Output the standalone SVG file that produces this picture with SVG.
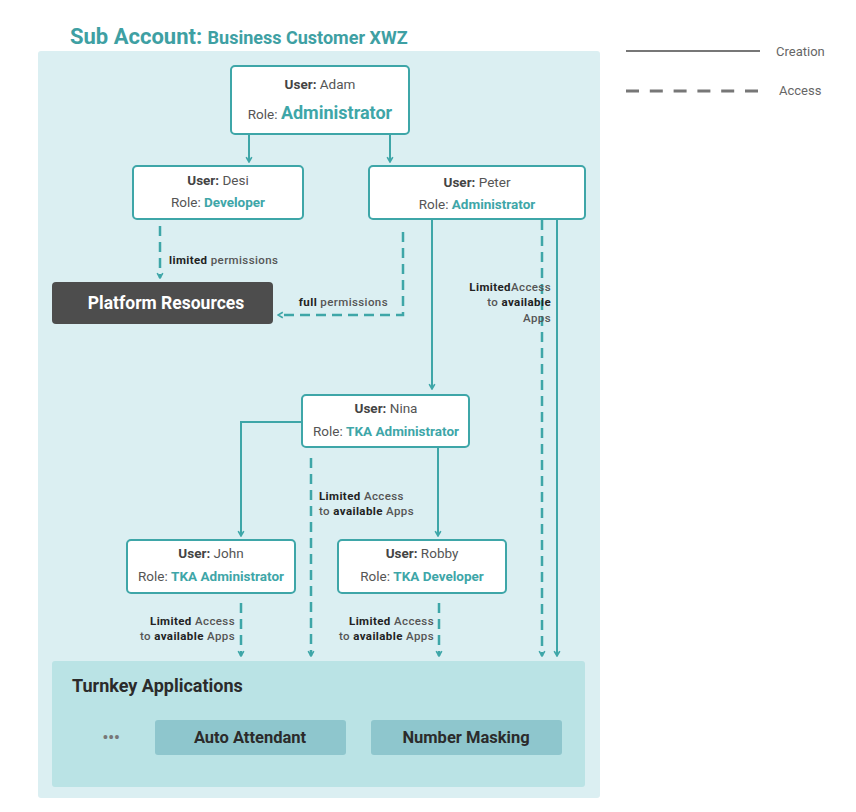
<svg xmlns="http://www.w3.org/2000/svg" width="856" height="812" viewBox="0 0 856 812">
<style>
text{font-family:Roboto,"Liberation Sans",sans-serif}
.node{fill:#fff;stroke:#3ea6a8;stroke-width:2}
.u{font-size:13.5px;fill:#555;text-anchor:middle}
.b{font-weight:bold;fill:#444}
.t{font-weight:bold;fill:#3ea6a8}
.c{fill:none;stroke:#3ea6a8;stroke-width:2}
.d{fill:none;stroke:#3ea6a8;stroke-width:2.5;stroke-dasharray:10 6}
.l{font-size:11.5px;font-weight:500;fill:#555;letter-spacing:0.4px}
.k{font-weight:bold;fill:#222}
.app{fill:#8ec6cd}
.at{font-size:16.5px;font-weight:bold;fill:#2b2b2b;text-anchor:middle}
</style>
<defs>
<marker id="ah" viewBox="0 0 10 10" refX="9" refY="5" markerWidth="8" markerHeight="8" markerUnits="userSpaceOnUse" orient="auto">
<path d="M3,1.5 L9,5 L3,8.5" fill="none" stroke="#3ea6a8" stroke-width="2"/>
</marker>
</defs>
<rect width="856" height="812" fill="#fff"/>
<text x="70" y="44" font-size="22" font-weight="bold" fill="#3ea0a3">Sub Account: <tspan font-size="18">Business Customer XWZ</tspan></text>
<rect x="38" y="51" width="562" height="747" rx="3" fill="#dbeff2"/>

<g id="legend">
<line x1="626" y1="51" x2="760" y2="51" stroke="#777" stroke-width="2"/>
<text x="776" y="56" font-size="13" fill="#666">Creation</text>
<line x1="626" y1="91" x2="758" y2="91" stroke="#777" stroke-width="3" stroke-dasharray="13 10.8"/>
<text x="779" y="95" font-size="13" fill="#666">Access</text>
</g>

<g id="turnkey">
<rect x="52" y="661" width="533" height="126" rx="3" fill="#bae3e5"/>
<text x="72" y="692" font-size="18" font-weight="bold" fill="#2b2b2b">Turnkey Applications</text>
<text x="111" y="743" font-size="16" font-weight="bold" fill="#777" text-anchor="middle">•••</text>
</g>
<g id="auto-attendant">
<rect class="app" x="155" y="720" width="191" height="35" rx="3"/>
<text class="at" x="250" y="743">Auto Attendant</text>
</g>
<g id="number-masking">
<rect class="app" x="371" y="720" width="191" height="35" rx="3"/>
<text class="at" x="466" y="743">Number Masking</text>
</g>

<g id="connectors">
<line class="c" x1="249" y1="135" x2="249" y2="162" marker-end="url(#ah)"/>
<line class="c" x1="390" y1="135" x2="390" y2="162" marker-end="url(#ah)"/>
<line class="d" x1="160" y1="226" x2="160" y2="278" marker-end="url(#ah)"/>
<polyline class="d" points="403,232 403,315 278,315" marker-end="url(#ah)"/>
<line class="c" x1="432" y1="220" x2="432" y2="389" marker-end="url(#ah)"/>
<line class="d" x1="542" y1="220" x2="542" y2="656" marker-end="url(#ah)"/>
<line class="c" x1="557" y1="220" x2="557" y2="656" marker-end="url(#ah)"/>
<polyline class="c" points="302,422 241,422 241,536" marker-end="url(#ah)"/>
<line class="c" x1="438" y1="448" x2="438" y2="536" marker-end="url(#ah)"/>
<line class="d" x1="311" y1="458" x2="311" y2="656" marker-end="url(#ah)"/>
<line class="d" x1="241" y1="603" x2="241" y2="656" marker-end="url(#ah)"/>
<line class="d" x1="439" y1="603" x2="439" y2="656" marker-end="url(#ah)"/>
<text class="l" x="169" y="264"><tspan class="k">limited</tspan> permissions</text>
<text class="l" x="388" y="306" text-anchor="end"><tspan class="k">full</tspan> permissions</text>
<text class="l" text-anchor="end"><tspan x="551" y="291"><tspan class="k">Limited</tspan>Access</tspan><tspan x="551" y="306">to <tspan class="k">available</tspan></tspan><tspan x="551" y="322">Apps</tspan></text>
<text class="l"><tspan x="319" y="500"><tspan class="k">Limited</tspan> Access</tspan><tspan x="319" y="515">to <tspan class="k">available</tspan> Apps</tspan></text>
<text class="l" text-anchor="end"><tspan x="235" y="625"><tspan class="k">Limited</tspan> Access</tspan><tspan x="235" y="640">to <tspan class="k">available</tspan> Apps</tspan></text>
<text class="l" text-anchor="end"><tspan x="434" y="625"><tspan class="k">Limited</tspan> Access</tspan><tspan x="434" y="640">to <tspan class="k">available</tspan> Apps</tspan></text>
</g>

<g id="adam">
<rect class="node" x="231" y="66" width="178" height="68" rx="4"/>
<text class="u" x="320" y="89"><tspan class="b">User:</tspan> Adam</text>
<text class="u" x="320" y="119">Role: <tspan class="t" font-size="18">Administrator</tspan></text>
</g>
<g id="desi">
<rect class="node" x="133" y="166" width="170" height="53" rx="4"/>
<text class="u" x="218" y="185"><tspan class="b">User:</tspan> Desi</text>
<text class="u" x="218" y="207">Role: <tspan class="t">Developer</tspan></text>
</g>
<g id="peter">
<rect class="node" x="369" y="166" width="216" height="53" rx="4"/>
<text class="u" x="477" y="187"><tspan class="b">User:</tspan> Peter</text>
<text class="u" x="477" y="209">Role: <tspan class="t">Administrator</tspan></text>
</g>
<g id="platform-resources">
<rect x="52" y="282" width="221" height="42" rx="4" fill="#4d4d4d"/>
<text x="166" y="309" font-size="17.5" font-weight="bold" fill="#fff" text-anchor="middle">Platform Resources</text>
</g>
<g id="nina">
<rect class="node" x="302" y="395" width="167" height="52" rx="4"/>
<text class="u" x="386" y="413"><tspan class="b">User:</tspan> Nina</text>
<text class="u" x="386" y="436">Role: <tspan class="t">TKA Administrator</tspan></text>
</g>
<g id="john">
<rect class="node" x="127" y="540" width="168" height="53" rx="4"/>
<text class="u" x="211" y="558"><tspan class="b">User:</tspan> John</text>
<text class="u" x="211" y="581">Role: <tspan class="t">TKA Administrator</tspan></text>
</g>
<g id="robby">
<rect class="node" x="338" y="540" width="168" height="53" rx="4"/>
<text class="u" x="422" y="558"><tspan class="b">User:</tspan> Robby</text>
<text class="u" x="422" y="581">Role: <tspan class="t">TKA Developer</tspan></text>
</g>
</svg>
